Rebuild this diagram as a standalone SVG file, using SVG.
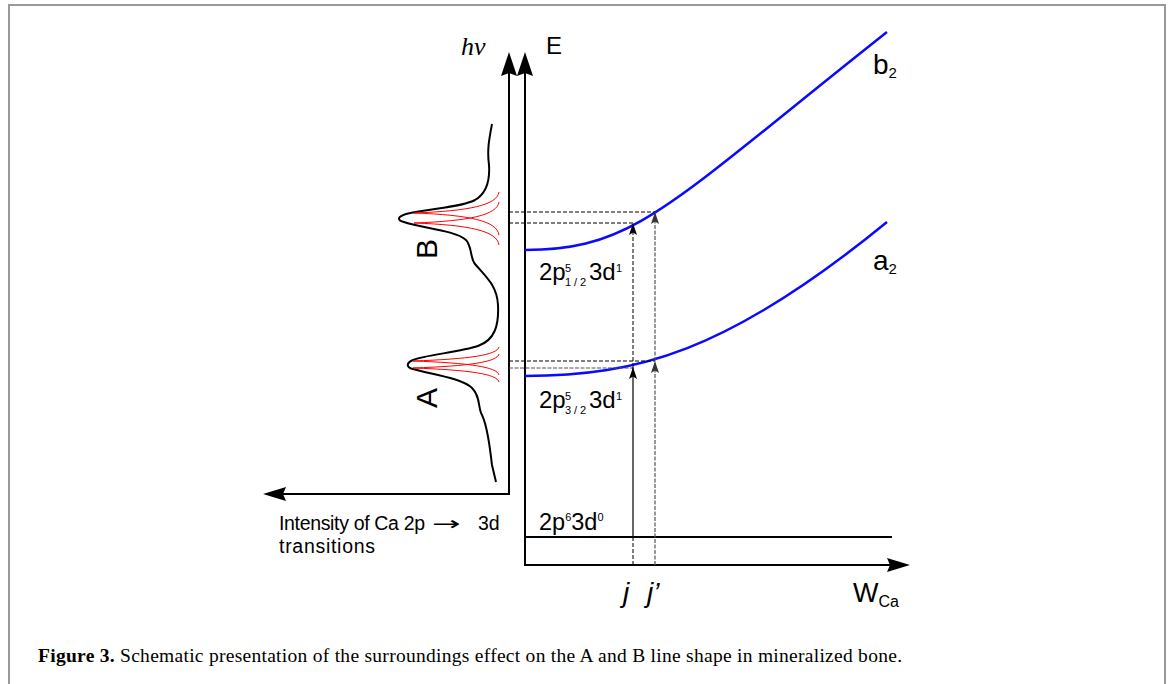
<svg xmlns="http://www.w3.org/2000/svg" width="1171" height="684" viewBox="0 0 1171 684">
<style>
.ax{fill:none;stroke:#000;stroke-width:2}
.lbl{font-family:"Liberation Sans",Arial,sans-serif;fill:#000}
.blue{fill:none;stroke:#0a0aff;stroke-width:2.5}
.red{fill:none;stroke:#ff0000;stroke-width:1}
.dk{fill:none;stroke:#000;stroke-width:1;stroke-dasharray:4,2}
.gr{fill:none;stroke:#555;stroke-width:1.2;stroke-dasharray:4,1.5}
.tr{fill:none;stroke:#000;stroke-width:1.2}
.ah{fill:#000}
</style>
<defs>
<marker id="sa" markerUnits="userSpaceOnUse" markerWidth="14" markerHeight="10" refX="12" refY="4" orient="auto">
<path d="M0,0 L12,4 L0,8 L2.5,4 z" fill="#000"/>
</marker>
<marker id="sg" markerUnits="userSpaceOnUse" markerWidth="14" markerHeight="10" refX="12" refY="4" orient="auto">
<path d="M0,0 L12,4 L0,8 L2.5,4 z" fill="#333"/>
</marker>
</defs>
<rect width="1171" height="684" fill="#fff"/>
<g id="frame"><rect x="9" y="5" width="1156" height="700" fill="none" stroke="#999" stroke-width="2"/></g>

<g id="hv-axis">
<path class="ax" d="M509,70 V494 H280"/>
<path class="ah" d="M509,52 L517,76 L509,73 L501,76 z"/>
<path class="ah" d="M263,494 L286,487 L283,494 L286,501 z"/>
<text class="lbl" x="461" y="55" style="font-family:'Liberation Serif',serif;font-style:italic;font-size:26px">hν</text>
<text class="lbl" x="279" y="530" style="font-size:19.5px" textLength="146">Intensity of Ca 2p</text>
<text class="lbl" transform="translate(432,530) scale(1.8,1)" style="font-family:'DejaVu Sans',sans-serif;font-size:19px">→</text>
<text class="lbl" x="478" y="530" style="font-size:19.5px">3d</text>
<text class="lbl" x="279" y="553" style="font-size:19.5px" textLength="96">transitions</text>
</g>

<g id="e-axis">
<path class="ax" d="M525,70 V565 H892"/>
<path class="ah" d="M525,52 L533,76 L525,73 L517,76 z"/>
<path class="ah" d="M910,565 L887,558 L890,565 L887,572 z"/>
<text class="lbl" x="546" y="54" style="font-size:24px">E</text>
<text class="lbl" x="853" y="602" style="font-size:27px">W<tspan style="font-size:16px" dy="5">Ca</tspan></text>
</g>

<g id="spectrum">
<path fill="none" stroke="#000" stroke-width="2" d="M492,124 C489,140 487,150 489,165 C490,180 487,193 475,200 C460,208 430,208 406,214 C397,217 397,220 404,222 C420,228 455,230 466,240 C472,246 470,258 475,264 C485,276 497,285 498,305 C499,325 495,340 478,346 C460,352 425,355 413,360 C406,363 406,367 413,369 C430,374 462,378 472,388 C480,396 478,405 481,413 C488,425 490,450 492,465 L496,482"/>
<path class="red" d="M499,192 C497,205 470,211 414,213 C470,215 497,221 499,235"/>
<path class="red" d="M499,202 C497,215 470,221 414,223 C470,225 497,231 499,245"/>
<path class="red" d="M499,347 C497,355 470,359 413,361 C470,363 497,367 499,375"/>
<path class="red" d="M499,354 C497,362 470,366 413,368 C470,370 497,374 499,382"/>
<text class="lbl" transform="translate(437,249) rotate(-90)" text-anchor="middle" style="font-size:30px">B</text>
<text class="lbl" transform="translate(437,398) rotate(-90)" text-anchor="middle" style="font-size:30px">A</text>
</g>

<g id="ground">
<path class="ax" d="M525,537 H892"/>
<text class="lbl" x="539" y="530" style="font-size:23.5px">2p<tspan style="font-size:11px" dy="-9">6</tspan><tspan dy="9">3d</tspan><tspan style="font-size:11px" dy="-9">0</tspan></text>
</g>

<g id="curve-a2">
<path class="blue" d="M525,376 C635,376 727,353 887,222"/>
<text class="lbl" style="font-size:24px"><tspan x="539" y="408">2p</tspan><tspan x="565" y="400" style="font-size:11px">5</tspan><tspan x="565" y="414" style="font-size:11px" textLength="21">3/2</tspan><tspan x="589" y="408">3d</tspan><tspan x="616" y="400" style="font-size:11px">1</tspan></text>
<text class="lbl" x="873" y="270" style="font-size:28px">a<tspan style="font-size:15px" dy="4">2</tspan></text>
</g>

<g id="curve-b2">
<path class="blue" d="M525,250 C635,250 667,206 887,32"/>
<text class="lbl" style="font-size:24px"><tspan x="539" y="280">2p</tspan><tspan x="565" y="272" style="font-size:11px">5</tspan><tspan x="565" y="286" style="font-size:11px" textLength="21">1/2</tspan><tspan x="589" y="280">3d</tspan><tspan x="616" y="272" style="font-size:11px">1</tspan></text>
<text class="lbl" x="873" y="74" style="font-size:28px">b<tspan style="font-size:15px" dy="4">2</tspan></text>
</g>

<g id="connectors">
<path class="dk" d="M509,212 H655"/>
<path class="dk" d="M509,223 H633"/>
<path class="dk" d="M509,361 H655"/>
<path class="gr" d="M509,368 H633"/>
<path class="dk" d="M633,565 V537"/>
<path class="tr" d="M633,537 V367" marker-end="url(#sa)"/>
<path class="dk" d="M633,367 V223" marker-end="url(#sa)"/>
<path class="gr" d="M655,565 V361" marker-end="url(#sg)"/>
<path class="gr" d="M655,361 V212" marker-end="url(#sg)"/>
</g>

<g id="x-ticks">
<text class="lbl" x="623" y="602" style="font-size:28px;font-style:italic">j</text>
<text class="lbl" x="647" y="602" style="font-size:28px;font-style:italic">j’</text>
</g>

<g id="caption">
<text x="38" y="662" style="font-family:'Liberation Serif',serif;font-size:19.5px" fill="#000" textLength="864"><tspan font-weight="bold">Figure 3.</tspan> Schematic presentation of the surroundings effect on the A and B line shape in mineralized bone.</text>
</g>
</svg>
